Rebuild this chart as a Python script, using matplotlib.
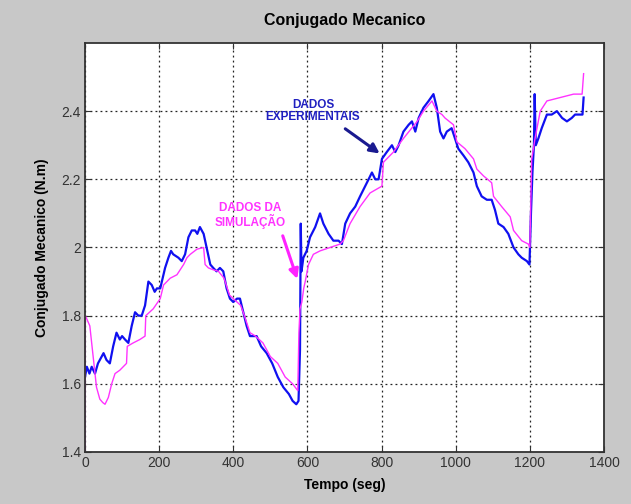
import numpy as np
import matplotlib.pyplot as plt

plt.rcParams['font.family'] = ['Liberation Sans', 'DejaVu Sans']

# Dados experimentais (azul)
t_exp = [0, 5, 12, 18, 27, 35, 40, 50, 58, 67, 76, 85, 94, 100, 108, 117, 126, 135, 144, 153,
         162, 171, 180, 188, 194, 203, 216, 225, 232, 238, 252, 261, 270, 279, 288, 297, 303,
         310, 320, 328, 338, 346, 355, 364, 373, 382, 391, 400, 410, 418, 427, 436, 445, 455,
         463, 475, 490, 505, 520, 535, 550, 560, 570, 576, 580, 582, 584, 589, 598, 607, 621,
         634, 643, 657, 670, 684, 693, 702, 715, 729, 742, 756, 765, 774, 783, 792, 801, 814,
         828, 837, 846, 859, 873, 882, 891, 900, 913, 927, 940, 949, 958, 967, 976, 989, 998,
         1007, 1021, 1034, 1048, 1057, 1070, 1084, 1097, 1106, 1115, 1129, 1142, 1156, 1169,
         1178, 1192, 1199, 1203, 1207, 1211, 1213, 1216, 1223, 1232, 1246, 1259, 1273, 1287,
         1300, 1313, 1322, 1336, 1342, 1345]
c_exp = [1.62, 1.65, 1.63, 1.65, 1.63, 1.66, 1.67, 1.69, 1.67, 1.66, 1.71, 1.75, 1.73, 1.74,
         1.73, 1.72, 1.77, 1.81, 1.80, 1.80, 1.83, 1.90, 1.89, 1.87, 1.88, 1.88, 1.94, 1.97,
         1.99, 1.98, 1.97, 1.96, 1.98, 2.03, 2.05, 2.05, 2.04, 2.06, 2.04, 2.00, 1.95, 1.94,
         1.93, 1.94, 1.93, 1.88, 1.85, 1.84, 1.85, 1.85, 1.81, 1.77, 1.74, 1.74, 1.74, 1.71,
         1.69, 1.66, 1.62, 1.59, 1.57, 1.55, 1.54, 1.55, 1.70, 2.07, 1.93, 1.97, 1.99, 2.03,
         2.06, 2.10, 2.07, 2.04, 2.02, 2.02, 2.01, 2.07, 2.10, 2.12, 2.15, 2.18, 2.20, 2.22,
         2.20, 2.20, 2.26, 2.28, 2.30, 2.28, 2.30, 2.34, 2.36, 2.37, 2.34, 2.38, 2.41, 2.43,
         2.45, 2.41, 2.34, 2.32, 2.34, 2.35, 2.32, 2.29, 2.27, 2.25, 2.22, 2.18, 2.15, 2.14,
         2.14, 2.11, 2.07, 2.06, 2.04, 2.00, 1.98, 1.97, 1.96, 1.95, 2.10, 2.22, 2.30, 2.45,
         2.30, 2.32, 2.35, 2.39, 2.39, 2.40, 2.38, 2.37, 2.38, 2.39, 2.39, 2.39, 2.44]

# Dados da simulacao (magenta)
t_sim = [0, 0.5, 5, 13, 22, 31, 40, 48, 54, 63, 72, 81, 94, 112, 114, 130, 148, 162, 164, 184,
         203, 212, 230, 248, 266, 275, 284, 302, 320, 324, 333, 345, 360, 375, 390, 410, 420,
         430, 445, 460, 480, 500, 520, 540, 560, 574, 577, 580, 585, 590, 594, 603, 616, 634,
         661, 688, 697, 715, 742, 769, 801, 805, 832, 859, 896, 913, 936, 949, 963, 971, 994,
         1003, 1025, 1048, 1057, 1075, 1097, 1102, 1124, 1147, 1156, 1178, 1196, 1200, 1205,
         1214, 1228, 1246, 1282, 1318, 1341, 1345]
c_sim = [1.40, 1.80, 1.79, 1.77, 1.68, 1.59, 1.555, 1.545, 1.54, 1.56, 1.60, 1.63, 1.64, 1.66,
         1.71, 1.72, 1.73, 1.74, 1.80, 1.82, 1.85, 1.89, 1.91, 1.92, 1.95, 1.97, 1.98, 1.995,
         2.00, 1.95, 1.94, 1.935, 1.93, 1.91, 1.86, 1.84, 1.83, 1.80, 1.75, 1.74, 1.72, 1.68,
         1.66, 1.62, 1.60, 1.58, 1.75, 1.82, 1.84, 1.88, 1.90, 1.95, 1.98, 1.99, 2.00, 2.01,
         2.02, 2.07, 2.12, 2.16, 2.18, 2.25, 2.28, 2.32, 2.37, 2.40, 2.43, 2.40, 2.39, 2.38,
         2.36, 2.31, 2.29, 2.26, 2.23, 2.21, 2.19, 2.15, 2.12, 2.09, 2.05, 2.02, 2.01, 2.00,
         2.26, 2.32, 2.40, 2.43, 2.44, 2.45, 2.45, 2.51]

x_ticks = [0, 200, 400, 600, 800, 1000, 1200, 1400]
y_ticks = [1.4, 1.6, 1.8, 2.0, 2.2, 2.4]
y_labels = ['1.4', '1.6', '1.8', '2', '2.2', '2.4']

fig = plt.figure(figsize=(6.31, 5.04), dpi=100, facecolor='#c8c8c8')
ax = fig.add_axes([0.1347, 0.1032, 0.8225, 0.8115])

ax.plot(t_exp, c_exp, color='#1010f0', linewidth=1.6)
ax.plot(t_sim, c_sim, color='#ff33ff', linewidth=1.0)

ax.set_xlim(0, 1400)
ax.set_ylim(1.4, 2.6)
ax.set_xticks(x_ticks)
ax.set_yticks(y_ticks)
ax.set_yticklabels(y_labels)
ax.tick_params(direction='in', top=True, right=True, labelsize=10, length=4, pad=3,
               colors='#333333')
ax.grid(True, color='#222222', linestyle=(0, (1.5, 2.5)), linewidth=0.9)
for s in ax.spines.values():
    s.set_linewidth(1.3)
    s.set_color('#333333')

ax.set_title('Conjugado Mecanico', fontsize=11.5, fontweight='bold', pad=13)
ax.set_xlabel('Tempo (seg)', fontsize=10, fontweight='bold', labelpad=6)
ax.set_ylabel('Conjugado Mecanico (N.m)', fontsize=10, fontweight='bold', labelpad=9)

# Anotacoes
ax.text(615, 2.40, 'DADOS\nEXPERIMENTAIS', color='#2020c0', fontsize=8.5,
        fontweight='bold', ha='center', va='center', linespacing=1.0)
ax.annotate('', xy=(801, 2.271), xytext=(696, 2.353),
            arrowprops=dict(arrowstyle='-|>', color='#1a1a90', lw=2.2, mutation_scale=14))
ax.text(445, 2.095, 'DADOS DA\nSIMULAÇÃO', color='#ff33ff', fontsize=8.5,
        fontweight='bold', ha='center', va='center', linespacing=1.0)
ax.annotate('', xy=(575, 1.90), xytext=(531, 2.042),
            arrowprops=dict(arrowstyle='-|>', color='#ff22ff', lw=2.2, mutation_scale=14))

fig.savefig('out.png', dpi=100, facecolor=fig.get_facecolor())
